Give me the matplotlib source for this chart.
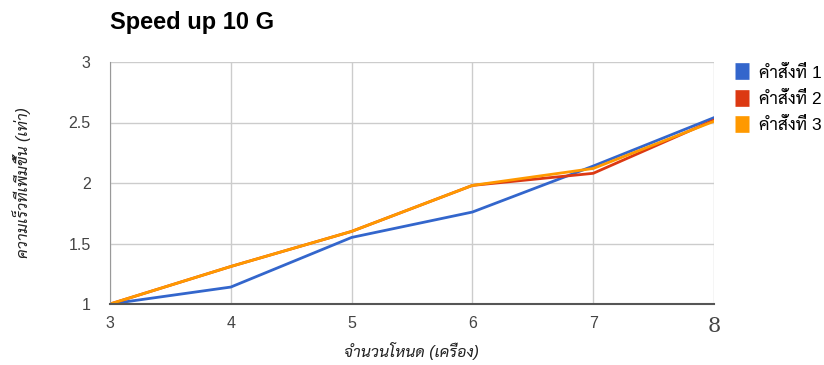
import matplotlib
matplotlib.use("Agg")
import matplotlib.pyplot as plt
from matplotlib import font_manager

# 데이터
nodes = [3, 4, 5, 6, 7, 8]
cmd1 = [1.00, 1.14, 1.55, 1.76, 2.14, 2.54]
cmd2 = [1.00, 1.31, 1.60, 1.98, 2.08, 2.52]
cmd3 = [1.00, 1.31, 1.60, 1.98, 2.12, 2.51]
labels = ["คำสั่งที่ 1", "คำสั่งที่ 2", "คำสั่งที่ 3"]
colors = ["#3366cc", "#dc3912", "#ff9900"]

# 태국어 글꼴 고르기 (있는 것 중에서)
names = {f.name for f in font_manager.fontManager.ttflist}
thai = [n for n in ["Sarabun", "Noto Sans Thai", "Anuphan", "Bai Jamjuree"] if n in names][:1]
family = ["Liberation Sans"] + thai + ["DejaVu Sans"]
plt.rcParams["font.family"] = family

fig = plt.figure(figsize=(8.24, 3.65), dpi=100)
ax = fig.add_axes([110 / 824, 1 - 304 / 365, 604 / 824, 242 / 365])

for ys, lab, c in zip([cmd1, cmd2, cmd3], labels, colors):
    ax.plot(nodes, ys, color=c, lw=2, label=lab, solid_joinstyle="round")

ax.set_xlim(3, 8)
ax.set_ylim(1, 3)
ax.set_xticks(nodes)
ax.set_yticks([1, 1.5, 2, 2.5, 3])
ax.set_yticklabels(["1", "1.5", "2", "2.5", "3"])
ax.grid(True, color="#cccccc", lw=1)
ax.set_axisbelow(True)
for s in ["top", "right"]:
    ax.spines[s].set_visible(False)
ax.spines["left"].set_color("#999999")
ax.spines["bottom"].set_color("#555555")
ax.spines["bottom"].set_linewidth(1.5)
ax.tick_params(length=0, colors="#444444", labelsize=11.5, pad=9)
ax.tick_params(axis="y", pad=14)
ax.get_xticklabels()[-1].set_fontfamily(["DejaVu Serif"])
ax.get_xticklabels()[-1].set_fontsize(15)

ax.set_xlabel("จำนวนโหนด (เครื่อง)", style="italic", fontsize=11.5, color="#222222", labelpad=5)
ax.set_ylabel("ความเร็วที่เพิ่มขึ้น (เท่า)", style="italic", fontsize=11.5, color="#222222", labelpad=27)
fig.text(110 / 824, 1 - 22 / 365, "Speed up 10 G", fontsize=17, fontweight="bold", va="center", ha="left")

leg = fig.legend(loc="upper left", bbox_to_anchor=(719 / 824, 1 - 49 / 365), frameon=False,
                 handlelength=0.85, handleheight=0.85, handletextpad=0.55, labelspacing=0.6,
                 fontsize=12.5)
for h in leg.legend_handles:
    h.set_linewidth(12)
    h.set_solid_capstyle("butt")

fig.savefig("out.png", dpi=100)
